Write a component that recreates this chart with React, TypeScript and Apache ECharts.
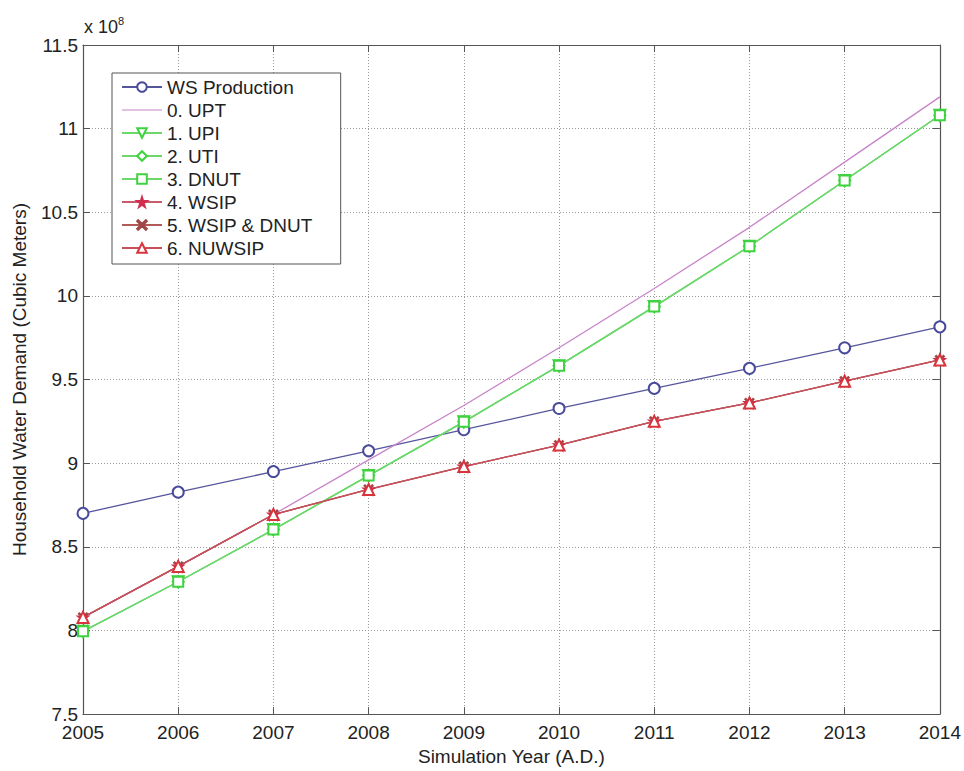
import React, { useEffect, useRef } from "react";
import * as echarts from "echarts";

const years = [2005, 2006, 2007, 2008, 2009, 2010, 2011, 2012, 2013, 2014];
const wsProduction = [8.70, 8.827, 8.95, 9.074, 9.20, 9.327, 9.447, 9.567, 9.69, 9.815];
const upt = [8.078, 8.383, 8.693, 9.02, 9.345, 9.69, 10.044, 10.41, 10.80, 11.19];
const upi = [7.995, 8.291, 8.603, 8.926, 9.247, 9.583, 9.936, 10.297, 10.69, 11.08];
const uti = [7.995, 8.291, 8.603, 8.926, 9.247, 9.583, 9.936, 10.297, 10.69, 11.08];
const dnut = [7.995, 8.291, 8.603, 8.926, 9.247, 9.583, 9.936, 10.297, 10.69, 11.08];
const wsip = [8.078, 8.383, 8.693, 8.843, 8.98, 9.108, 9.25, 9.36, 9.49, 9.617];
const wsipDnut = [8.078, 8.383, 8.693, 8.843, 8.98, 9.108, 9.25, 9.36, 9.49, 9.617];
const nuwsip = [8.078, 8.383, 8.693, 8.843, 8.98, 9.108, 9.25, 9.36, 9.49, 9.617];

const seriesNames = [
  "WS Production",
  "0. UPT",
  "1. UPI",
  "2. UTI",
  "3. DNUT",
  "4. WSIP",
  "5. WSIP & DNUT",
  "6. NUWSIP",
];

const STAR = "path://M50,0 L61,35 L98,35 L68,57 L79,91 L50,70 L21,91 L32,57 L2,35 L39,35 Z";
const CROSS = "path://M1,0 L5,4 L9,0 L10,1 L6,5 L10,9 L9,10 L5,6 L1,10 L0,9 L4,5 L0,1 Z";
const LINE_ICON =
  "path://M0,0 L0.001,0 L0.001,0.001 Z M0,5.4 L40,5.4 L40,6.6 L0,6.6 Z M39.999,12 L40,12 L40,11.999 Z";

const FONT = "'Liberation Sans', Arial, sans-serif";

function pairs(vals: number[]) {
  return years.map((y, i) => [y, vals[i]]);
}

export default function App() {
  const ref = useRef<HTMLDivElement>(null);
  useEffect(() => {
    if (!ref.current) return;
    const chart = echarts.init(ref.current, undefined, { renderer: "svg" });
    const green = "#3fd23f";
    const greenLine = "#6cd86c";
    const red = "#d8343c";
    const mk = (
      name: string,
      vals: number[],
      color: string,
      lineColor: string,
      symbol: string,
      size: number,
      opts: any = {}
    ) => ({
      name,
      type: "line",
      data: pairs(vals),
      symbol,
      symbolSize: size,
      showSymbol: symbol !== "none",
      lineStyle: { color: lineColor, width: 1.3 },
      itemStyle: { color, borderColor: color, borderWidth: 1.4 },
      symbolRotate: opts.rotate || 0,
      z: opts.z || 2,
    });
    chart.setOption({
      animation: false,
      backgroundColor: "#ffffff",
      textStyle: { fontFamily: FONT },
      grid: { left: 83, right: 24, top: 45, bottom: 50, containLabel: false },
      legend: {
        orient: "vertical",
        left: 112,
        top: 73,
        data: seriesNames.map((n) =>
          n === "0. UPT"
            ? { name: n, icon: LINE_ICON, itemStyle: { color: "#c884c8", borderWidth: 0 } }
            : n
        ),
        itemWidth: 40,
        itemHeight: 12,
        itemGap: 3,
        padding: [4, 28, 6, 9],
        backgroundColor: "#ffffff",
        borderColor: "#555555",
        borderWidth: 1,
        textStyle: { fontSize: 19, color: "#222222", fontFamily: FONT, lineHeight: 20 },
      },
      xAxis: [
        {
          type: "value",
          min: 2005,
          max: 2014,
          interval: 1,
          position: "bottom",
          name: "Simulation Year (A.D.)",
          nameLocation: "middle",
          nameGap: 31,
          nameTextStyle: { fontSize: 19, color: "#222222", fontFamily: FONT },
          axisLine: { show: true, lineStyle: { color: "#555555", width: 1.2 } },
          axisTick: { show: true, inside: true, length: 7, lineStyle: { color: "#555555" } },
          axisLabel: {
            fontSize: 19,
            lineHeight: 15,
            color: "#222222",
            margin: 11,
            fontFamily: FONT,
            formatter: (v: number) => String(v),
          },
          splitLine: { show: true, lineStyle: { color: "#9a9a9a", type: [1, 2], width: 1 } },
        },
        {
          type: "value",
          min: 2005,
          max: 2014,
          interval: 1,
          position: "top",
          axisLine: { show: true, lineStyle: { color: "#555555", width: 1.2 } },
          axisTick: { show: true, inside: true, length: 7, lineStyle: { color: "#555555" } },
          axisLabel: { show: false },
          splitLine: { show: false },
        },
      ],
      yAxis: [
        {
          type: "value",
          min: 7.5,
          max: 11.5,
          interval: 0.5,
          position: "left",
          name: "Household Water Demand (Cubic Meters)",
          nameLocation: "middle",
          nameGap: 54,
          nameTextStyle: { fontSize: 19, color: "#222222", fontFamily: FONT },
          axisLine: { show: true, lineStyle: { color: "#555555", width: 1.2 } },
          axisTick: { show: true, inside: true, length: 7, lineStyle: { color: "#555555" } },
          axisLabel: { fontSize: 19, lineHeight: 15, color: "#222222", margin: 5, fontFamily: FONT },
          splitLine: { show: true, lineStyle: { color: "#9a9a9a", type: [1, 2], width: 1 } },
        },
        {
          type: "value",
          min: 7.5,
          max: 11.5,
          interval: 0.5,
          position: "right",
          axisLine: { show: true, lineStyle: { color: "#555555", width: 1.2 } },
          axisTick: { show: true, inside: true, length: 7, lineStyle: { color: "#555555" } },
          axisLabel: { show: false },
          splitLine: { show: false },
        },
      ],
      graphic: [
        {
          type: "text",
          left: 84,
          top: 15,
          style: {
            text: "x 10{s|8}",
            fontSize: 18,
            fontFamily: FONT,
            fill: "#222222",
            rich: { s: { fontSize: 11, verticalAlign: "top", padding: [0, 0, 12, 0] } },
          },
        },
      ],
      series: [
        mk(seriesNames[0], wsProduction, "#4a4a9c", "#55559c", "emptyCircle", 11),
        mk(seriesNames[1], upt, "#c47cc8", "#c884c8", "none", 0),
        mk(seriesNames[2], upi, green, greenLine, "emptyTriangle", 11, { rotate: 180 }),
        mk(seriesNames[3], uti, green, greenLine, "emptyDiamond", 11),
        mk(seriesNames[4], dnut, green, greenLine, "emptyRect", 10),
        mk(seriesNames[5], wsip, "#d02c4c", "#c85a6a", STAR, 11),
        mk(seriesNames[6], wsipDnut, "#a04848", "#b05a5a", CROSS, 9),
        mk(seriesNames[7], nuwsip, red, "#c8505a", "emptyTriangle", 11),
      ],
    });
    return () => chart.dispose();
  }, []);
  return <div ref={ref} style={{ width: 964, height: 771, position: "absolute", left: 0, top: 0 }} />;
}
